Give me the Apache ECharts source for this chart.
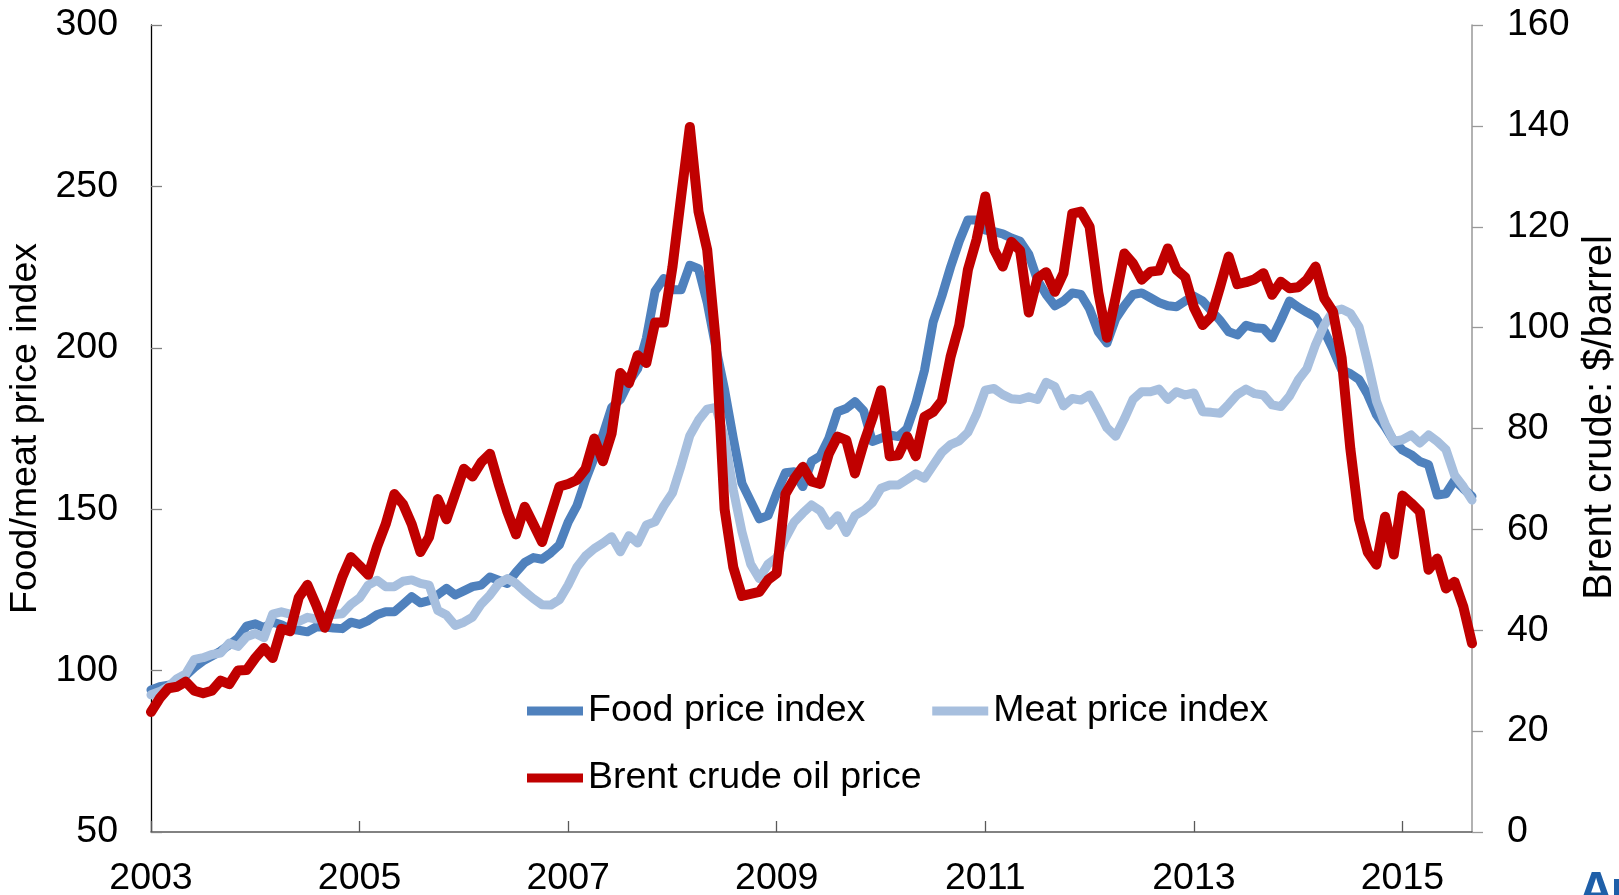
<!DOCTYPE html>
<html>
<head>
<meta charset="utf-8">
<script src="https://cdn.jsdelivr.net/npm/echarts@6/dist/echarts.min.js"></script>
<style>
  html, body { margin: 0; padding: 0; background: #ffffff; }
  #chart { width: 1619px; height: 895px; }
</style>
</head>
<body>
<div id="chart"></div>
<script>
// Monthly observations, January 2003 to September 2015
const months = [];
for (let y = 2003; y <= 2015; y++) {
  for (let m = 1; m <= 12; m++) {
    if (y === 2015 && m > 9) break;
    months.push(y + '-' + String(m).padStart(2, '0'));
  }
}

const seriesNames = ['Food price index', 'Meat price index', 'Brent crude oil price'];

// Food price index (left axis)
const foodIndex = [
  94, 95, 95.5, 96, 98.5, 101, 103, 104.5, 106, 108, 110, 113.8,
  114.5, 113.3, 115, 114.2, 112.8, 112.5, 112, 113.5, 113.5, 113.2, 113, 115,
  114.3, 115.5, 117.3, 118.2, 118.2, 120.5, 122.9, 121, 121.7, 123.5, 125.5, 123.4,
  124.7, 126, 126.5, 129, 128, 127, 130.5, 133.5, 135, 134.5, 136.5, 139,
  146, 151, 159, 166, 173, 181.5, 184, 189.5, 193.5, 203, 217.5, 221.5,
  218, 218, 225.6, 224.5, 214, 200, 187, 172, 158, 152.5, 147, 148,
  155, 161.3, 161.6, 157, 164.8, 166.5, 172, 180.2, 181.2, 183.3, 180.5, 171,
  172, 173, 172.5, 175, 182.8, 193, 208, 216, 225, 233, 239.6, 239.6,
  236.5, 236, 235.3, 234, 233, 229, 221, 216.5, 213, 214.5, 217, 216.5,
  212, 205, 201.5, 209, 213, 216.5, 217, 215.5, 214, 213, 212.7, 214.5,
  216, 214.5, 211.5, 208.5, 205, 204, 207, 206.2, 206, 203, 208.5, 214.5,
  212.6, 211, 209.5, 205.2, 199.5, 193.2, 192, 190.2, 185.5, 179.3, 175.5, 171.2,
  168.3, 166.9, 164.8, 163.8, 154.4, 154.8, 159, 156.4, 154
];

// Meat price index (left axis)
const meatIndex = [
  92.5, 93.5, 95, 97.5, 99, 103.5, 104, 105, 105.4, 108.5, 107.5, 110.5,
  111.5, 110.2, 117.5, 118.2, 117.5, 115.2, 116.5, 116, 117, 117.4, 117.6, 120.5,
  122.5, 126.5, 128, 126, 126, 127.7, 128.1, 127, 126.5, 118.6, 117.2, 114,
  115, 116.6, 120.6, 123.4, 127, 128.5, 127, 124.5, 122.3, 120.4, 120.3, 122,
  126.5, 132, 135.5, 137.8, 139.5, 141.5, 136.8, 141.8, 139.5, 145.1, 146.1, 151,
  155, 163.5, 172.8, 177.6, 181, 181.5, 172, 156, 143, 133, 128.5, 133,
  135, 141, 146, 148.8, 151.3, 149.5, 145, 148, 142.8, 148, 149.6, 152,
  156.5, 157.5, 157.5, 159.2, 161, 159.6, 163.6, 167.6, 170, 171.2, 173.8, 179.5,
  186.9, 187.4, 185.5, 184.2, 184, 184.8, 184, 189.3, 188, 182, 184.3, 183.8,
  185.4, 180.5, 175.2, 172.6, 178, 184, 186.4, 186.4, 187.2, 184, 186.4, 185.4,
  186, 180.2, 180, 179.7, 182.5, 185.5, 187.2, 185.8, 185.4, 182.3, 181.8, 185,
  190, 193.5, 201, 207, 211.3, 212, 210.7, 206.5, 195.5, 183.5, 176.5, 171,
  171.5, 173, 170.5, 173, 171, 168.5, 160.5, 157, 152.8
];

// Brent crude oil price, $/barrel (right axis)
const brentPrice = [
  23.8, 26.5, 28.5, 28.8, 29.8, 28, 27.5, 28, 30, 29.3, 32, 32.1,
  34.5, 36.5, 34.5, 40.3, 39.8, 46.5, 49, 45, 40.5, 45.5, 50.5, 54.5,
  52.8, 51, 56.5, 61, 67, 65, 61, 55.5, 58.5, 66, 62, 67,
  72, 70.5, 73.3, 75, 69, 63.5, 59, 64.5, 61, 57.5, 63, 68.5,
  69, 69.8, 72, 78, 73.5, 79, 91, 89, 94.5, 93, 101, 101,
  112, 126, 139.8, 123, 115.4, 97, 64, 52.5, 46.8, 47.2, 47.6, 50,
  51.3, 67, 70, 72.4, 69.5, 69, 75, 78.4, 77.7, 71.1, 77, 82,
  87.6, 74.5, 74.7, 78.4, 74.5, 82.3, 83.3, 85.5, 94.2, 100.5, 111.5, 117.5,
  126, 115.5, 112.1, 117, 115.3, 103, 109.8, 111, 107.1, 110.8, 122.6, 123,
  120, 107, 98, 106, 114.7, 112.7, 109.5, 111.1, 111.3, 115.7, 111.5, 110,
  104, 100.5, 102.2, 108, 114.1, 108.6, 109, 109.6, 110.8, 106.5, 109.1, 107.8,
  108, 109.5, 112.1, 105.8, 103.2, 94, 76, 62, 55.5, 53, 62.5, 55,
  66.7, 65.2, 63.5, 52, 54.2, 48.3, 49.6, 44.7, 37.4
];

const seriesColors = ['#4F81BD', '#A7BFDE', '#C00000'];
const font = 'Liberation Sans, Arial, sans-serif';
const everyTwoYears = (i) => i % 24 === 0;
const textSize = 37.5;

const chart = echarts.init(document.getElementById('chart'), null, { renderer: 'canvas' });

chart.setOption({
  animation: false,
  backgroundColor: '#ffffff',
  textStyle: { fontFamily: font },
  grid: { left: 151, right: 147, top: 25, bottom: 63, outerBoundsMode: 'none' },
  legend: [
    {
      data: [seriesNames[0], seriesNames[1]],
      left: 522, top: 687,
      icon: 'rect', itemWidth: 56, itemHeight: 9, itemGap: 67,
      textStyle: { fontSize: textSize, color: '#000', fontFamily: font }
    },
    {
      data: [seriesNames[2]],
      left: 522, top: 754,
      icon: 'rect', itemWidth: 56, itemHeight: 9,
      textStyle: { fontSize: textSize, color: '#000', fontFamily: font }
    }
  ],
  xAxis: {
    type: 'category',
    data: months,
    boundaryGap: false,
    axisLine: { lineStyle: { color: '#595959', width: 1.5 } },
    axisTick: { inside: true, length: 11, interval: everyTwoYears, lineStyle: { color: '#595959', width: 1.3 } },
    axisLabel: {
      interval: everyTwoYears,
      formatter: (v) => v.slice(0, 4),
      fontSize: textSize, color: '#000', fontFamily: font, margin: 28
    },
    splitLine: { show: false }
  },
  yAxis: [
    {
      type: 'value', position: 'left',
      min: 50, max: 300, interval: 50,
      name: 'Food/meat price index',
      nameLocation: 'middle', nameGap: 100,
      nameTextStyle: { fontSize: textSize, color: '#000', fontFamily: font },
      axisLine: { show: true, lineStyle: { color: '#000', width: 1.3 } },
      axisTick: { show: true, inside: true, length: 11, lineStyle: { color: '#808080', width: 1.3 } },
      axisLabel: { fontSize: textSize, color: '#000', fontFamily: font, margin: 33 },
      splitLine: { show: false }
    },
    {
      type: 'value', position: 'right',
      min: 0, max: 160, interval: 20,
      name: 'Brent crude: $/barrel',
      nameLocation: 'middle', nameGap: 108, nameRotate: 90,
      nameTextStyle: { fontSize: 40, color: '#000', fontFamily: font, padding: [0, 0, 0, 22] },
      axisLine: { show: true, lineStyle: { color: '#999999', width: 1.5 } },
      axisTick: { show: true, inside: false, length: 11, lineStyle: { color: '#999999', width: 1.3 } },
      axisLabel: { fontSize: textSize, color: '#000', fontFamily: font, margin: 35 },
      splitLine: { show: false }
    }
  ],
  series: [
    {
      name: seriesNames[0], type: 'line', yAxisIndex: 0, data: foodIndex,
      symbol: 'none', color: seriesColors[0],
      lineStyle: { width: 9, color: seriesColors[0], cap: 'round', join: 'round' }
    },
    {
      name: seriesNames[1], type: 'line', yAxisIndex: 0, data: meatIndex,
      symbol: 'none', color: seriesColors[1],
      lineStyle: { width: 9, color: seriesColors[1], cap: 'round', join: 'round' }
    },
    {
      name: seriesNames[2], type: 'line', yAxisIndex: 1, data: brentPrice,
      symbol: 'none', color: seriesColors[2],
      lineStyle: { width: 10, color: seriesColors[2], cap: 'round', join: 'round' }
    }
  ],
  graphic: [
    {
      type: 'text', left: 1578, top: 868, silent: true,
      style: { text: 'A', font: 'bold 50px ' + font, fill: '#1F5FA8' }
    },
    {
      type: 'rect', left: 1614, top: 879, silent: true,
      shape: { width: 6, height: 20 }, style: { fill: '#1F5FA8' }
    }
  ]
});
</script>
</body>
</html>
